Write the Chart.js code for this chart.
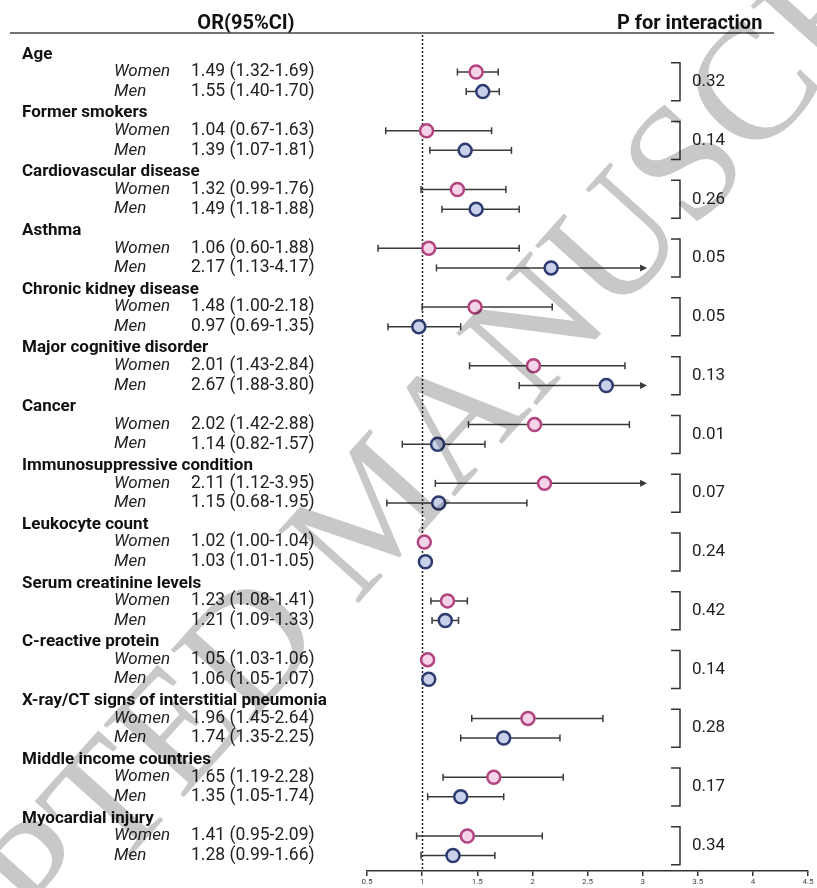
<!DOCTYPE html>
<html><head><meta charset="utf-8">
<script src="https://cdn.jsdelivr.net/npm/chart.js@4.4.1/dist/chart.umd.min.js"></script>
<style>html,body{margin:0;padding:0;background:#fff;} #wrap{width:817px;height:888px;position:relative;}</style>
</head><body><div id="wrap"><canvas id="c" width="817" height="888"></canvas></div>
<script>
const groups = ["Age","Former smokers","Cardiovascular disease","Asthma","Chronic kidney disease","Major cognitive disorder","Cancer","Immunosuppressive condition","Leukocyte count","Serum creatinine levels","C-reactive protein","X-ray/CT signs of interstitial pneumonia","Middle income countries","Myocardial injury"];
const womenOR = [1.49,1.04,1.32,1.06,1.48,2.01,2.02,2.11,1.02,1.23,1.05,1.96,1.65,1.41];
const womenLo = [1.32,0.67,0.99,0.60,1.00,1.43,1.42,1.12,1.00,1.08,1.03,1.45,1.19,0.95];
const womenHi = [1.69,1.63,1.76,1.88,2.18,2.84,2.88,3.95,1.04,1.41,1.06,2.64,2.28,2.09];
const menOR = [1.55,1.39,1.49,2.17,0.97,2.67,1.14,1.15,1.03,1.21,1.06,1.74,1.35,1.28];
const menLo = [1.40,1.07,1.18,1.13,0.69,1.88,0.82,0.68,1.01,1.09,1.05,1.35,1.05,0.99];
const menHi = [1.70,1.81,1.88,4.17,1.35,3.80,1.57,1.95,1.05,1.33,1.07,2.25,1.74,1.66];
const pInteraction = ["0.32","0.14","0.26","0.05","0.05","0.13","0.01","0.07","0.24","0.42","0.14","0.28","0.17","0.34"];
const xTicks = [0.5,1,1.5,2,2.5,3,3.5,4,4.5];
const sexLabels = ["Women","Men"];

const CLIP = 3.04;
const FONT = 'Roboto, "Liberation Sans", sans-serif';
const fmt = (o,l,h)=> o.toFixed(2)+" ("+l.toFixed(2)+"-"+h.toFixed(2)+")";

const forestPlugin = {
  id:'forest',
  beforeDatasetsDraw(chart){
    const {ctx, chartArea, scales:{x,y}} = chart;
    ctx.save();
    ctx.strokeStyle='#222'; ctx.lineWidth=1.5; ctx.setLineDash([2,2]);
    const x1 = Math.round(x.getPixelForValue(1))+0.5;
    ctx.beginPath(); ctx.moveTo(x1, chartArea.top); ctx.lineTo(x1, chartArea.bottom); ctx.stroke();
    ctx.setLineDash([]);
    const series = [[womenLo,womenHi,1],[menLo,menHi,2]];
    ctx.strokeStyle='#3a3a3a'; ctx.fillStyle='#3a3a3a'; ctx.lineWidth=1.5;
    series.forEach(([lo,hi,off])=>{
      lo.forEach((l,i)=>{
        const py = y.getPixelForValue(3*i+off);
        const pl = x.getPixelForValue(l);
        const arrow = hi[i] > CLIP;
        const ph = x.getPixelForValue(arrow ? CLIP : hi[i]);
        ctx.beginPath(); ctx.moveTo(pl,py); ctx.lineTo(arrow? ph-6: ph, py); ctx.stroke();
        ctx.beginPath(); ctx.moveTo(pl,py-3.5); ctx.lineTo(pl,py+3.5); ctx.stroke();
        if(arrow){ ctx.beginPath(); ctx.moveTo(ph,py); ctx.lineTo(ph-7,py-3.5); ctx.lineTo(ph-7,py+3.5); ctx.closePath(); ctx.fill(); }
        else { ctx.beginPath(); ctx.moveTo(ph,py-3.5); ctx.lineTo(ph,py+3.5); ctx.stroke(); }
      });
    });
    ctx.restore();
  },
  afterDraw(chart){
    const {ctx, scales:{y}} = chart;
    ctx.save();
    ctx.fillStyle='#111';
    ctx.font='bold 20px '+FONT; ctx.textBaseline='alphabetic';
    ctx.textAlign='center'; ctx.fillText('OR(95%CI)', 246, 29);
    ctx.textAlign='left'; ctx.fillText('P for interaction', 617, 29);
    ctx.strokeStyle='#444'; ctx.lineWidth=1.5;
    ctx.beginPath(); ctx.moveTo(10,33); ctx.lineTo(774,33); ctx.stroke();
    ctx.textBaseline='middle';
    groups.forEach((g,i)=>{
      ctx.fillStyle='#111'; ctx.textAlign='left';
      ctx.font='bold 17px '+FONT;
      ctx.fillText(g, 22, y.getPixelForValue(3*i+0.1));
      ctx.fillStyle='#222';
      ctx.font='italic 17px '+FONT;
      ctx.fillText(sexLabels[0], 114, y.getPixelForValue(3*i+1));
      ctx.fillText(sexLabels[1], 114, y.getPixelForValue(3*i+2));
      ctx.font='17.5px '+FONT;
      ctx.fillText(fmt(womenOR[i],womenLo[i],womenHi[i]), 191, y.getPixelForValue(3*i+1));
      ctx.fillText(fmt(menOR[i],menLo[i],menHi[i]), 191, y.getPixelForValue(3*i+2));
      const mid = y.getPixelForValue(3*i+1.5);
      ctx.strokeStyle='#333'; ctx.lineWidth=1.5;
      ctx.beginPath(); ctx.moveTo(671, mid-19); ctx.lineTo(680, mid-19); ctx.lineTo(680, mid+19); ctx.lineTo(671, mid+19); ctx.stroke();
      ctx.font='17px '+FONT; ctx.fillStyle='#222';
      ctx.fillText(pInteraction[i], 692, mid);
    });
    ctx.globalCompositeOperation='multiply';
    ctx.translate(420, 470);
    ctx.rotate(-48*Math.PI/180);
    ctx.font='165px "Liberation Serif", "DejaVu Serif", serif';
    ctx.fillStyle='#c8c8c8';
    ctx.textAlign='center'; ctx.textBaseline='middle';
    ctx.fillText('ACCEPTED MANUSCRIPT', -60, 0);
    ctx.restore();
  }
};

new Chart(document.getElementById('c').getContext('2d'), {
  type:'scatter',
  data:{datasets:[
    {label:'Women', data: womenOR.map((v,i)=>({x:v,y:3*i+1})), backgroundColor:'#f5d3e8', borderColor:'#b2447f', pointRadius:6.5, pointHoverRadius:6.5, pointBorderWidth:2.5},
    {label:'Men', data: menOR.map((v,i)=>({x:v,y:3*i+2})), backgroundColor:'#c9d1ea', borderColor:'#2d3b70', pointRadius:6.5, pointHoverRadius:6.5, pointBorderWidth:2.5}
  ]},
  options:{
    responsive:false, animation:false, events:[],
    layout:{padding:{left:367, right:4, top:35, bottom:0}},
    plugins:{legend:{display:false}, tooltip:{enabled:false}},
    scales:{
      x:{type:'linear', min:0.5, max:4.5,
        afterBuildTicks: s=>{ s.ticks = xTicks.map(v=>({value:v})); },
        ticks:{font:{size:8,family:FONT}, color:'#444', padding:1, maxRotation:0, autoSkip:false, callback:v=>String(v)},
        grid:{drawOnChartArea:false, drawTicks:true, tickLength:5, color:'#333', lineWidth:1.5},
        border:{display:true,color:'#333',width:1.5},
        afterFit: s=>{ s.height=17; s.paddingLeft=0; s.paddingRight=0; }
      },
      y:{type:'linear', display:false, reverse:true, min:-0.89, max:41.79}
    }
  },
  plugins:[forestPlugin]
});
</script>
</body></html>
